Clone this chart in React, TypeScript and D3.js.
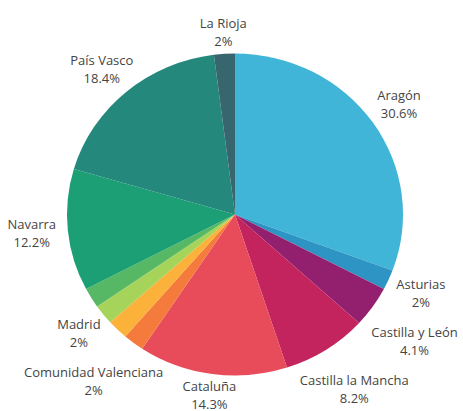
import { useEffect, useRef } from "react";
import * as d3 from "d3";

// regions in drawing order (clockwise from 12 o'clock)
const regions = [
  "Aragón",
  "Asturias",
  "Castilla y León",
  "Castilla la Mancha",
  "Cataluña",
  "Comunidad Valenciana",
  "Galicia",
  "Madrid",
  "Murcia",
  "Navarra",
  "País Vasco",
  "La Rioja",
];
const shares = [30.6, 2, 4.1, 8.2, 14.3, 2, 2, 2, 2, 12.2, 18.4, 2];
const labelled = [true, true, true, true, true, true, false, true, false, true, true, true];
const palette = [
  "#41b5d7",
  "#2d94c3",
  "#93206f",
  "#c3245e",
  "#e84b5a",
  "#f47b3c",
  "#fbb13a",
  "#a6d45b",
  "#56b864",
  "#1c9f74",
  "#24897c",
  "#37666f",
];

type Label = { x: number; y: number; w: number; h: number; side: number; lower: boolean; node: any };

export default function App() {
  const svgRef = useRef<SVGSVGElement>(null);

  useEffect(() => {
    document.body.style.margin = "0";
    const width = 463;
    const height = 411;
    const cx = 235;
    const cy = 214.5;
    const rx = 168;
    const ry = 161;

    const svg = d3.select(svgRef.current).attr("width", width).attr("height", height);
    svg.selectAll("*").remove();

    const pie = d3.pie<number>().sort(null).value((d) => d);
    const arcs = pie(shares);
    const arc = d3.arc<d3.PieArcDatum<number>>().innerRadius(0).outerRadius(ry);

    // the pie is a touch wider than tall in the reference
    svg
      .append("g")
      .attr("transform", `translate(${cx},${cy}) scale(${rx / ry},1)`)
      .selectAll("path")
      .data(arcs)
      .join("path")
      .attr("d", arc)
      .attr("fill", (_, i) => palette[i]);

    // outside labels, two lines each
    const labels: Label[] = [];
    const lineGap = 18;
    arcs.forEach((d, i) => {
      if (!labelled[i]) return;
      const t = svg
        .append("text")
        .attr("text-anchor", "middle")
        .style("font-family", "'Open Sans', sans-serif")
        .style("font-size", "13px")
        .style("fill", "#444");
      t.append("tspan").attr("class", "l1").attr("x", 0).attr("y", 0).text(regions[i]);
      t.append("tspan").attr("class", "l2").attr("x", 0).attr("y", lineGap).text(`${shares[i]}%`);
      const w = (t.node() as SVGTextElement).getBBox().width;
      const h = 36;
      const a = (d.startAngle + d.endAngle) / 2;
      const s = Math.sin(a);
      const c = Math.cos(a);
      const ex = cx + rx * s;
      const ey = cy - ry * c;
      const gy = 2 + 14 * Math.abs(s);
      labels.push({
        x: ex + s * 12 + Math.sign(s) * Math.pow(Math.abs(s), 1.5) * (w / 2),
        y: ey - c * (h / 2 + gy),
        w,
        h,
        side: s >= 0 ? 1 : -1,
        lower: c < 0,
        node: t,
      });
    });

    // push overlapping labels away from the equator
    const pad = 12;
    [1, -1].forEach((side) => {
      [true, false].forEach((lower) => {
        const group = labels
          .filter((l) => l.side === side && l.lower === lower)
          .sort((p, q) => (lower ? p.y - q.y : q.y - p.y));
        for (let k = 1; k < group.length; k++) {
          for (let j = 0; j < k; j++) {
            const p = group[j];
            const q = group[k];
            const xOverlap = Math.abs(p.x - q.x) < (p.w + q.w) / 2;
            const need = (p.h + q.h) / 2 + pad;
            if (xOverlap && Math.abs(q.y - p.y) < need) {
              q.y = lower ? p.y + need : p.y - need;
            }
          }
        }
      });
    });

    labels.forEach((l) => {
      l.node.select(".l1").attr("x", l.x).attr("y", l.y - lineGap / 2 + 4.5);
      l.node.select(".l2").attr("x", l.x).attr("y", l.y + lineGap / 2 + 4.5);
    });
  }, []);

  return <svg ref={svgRef} style={{ display: "block" }}></svg>;
}
